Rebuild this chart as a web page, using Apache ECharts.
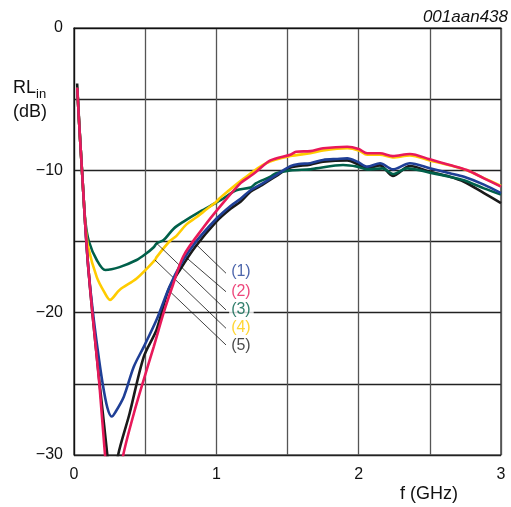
<!DOCTYPE html>
<html>
<head>
<meta charset="utf-8">
<script src="https://cdn.jsdelivr.net/npm/echarts@6/dist/echarts.min.js"></script>
<style>html,body{margin:0;padding:0;background:#fff}#c{width:511px;height:507px}</style>
</head>
<body>
<div id="c"></div>
<script>
// Data: [f (GHz), RLin (dB)]
const s1 = [[0.023,-4.2],[0.035,-6.5],[0.05,-9],[0.065,-11.5],[0.08,-14],[0.1,-16.8],[0.131,-19.8],[0.165,-22.5],[0.2,-24.9],[0.235,-26.7],[0.265,-27.3],[0.29,-27.0],[0.35,-25.9],[0.42,-23.8],[0.49,-22.4],[0.58,-20.5],[0.67,-18.2],[0.75,-16.6],[0.85,-15.1],[1.0,-13.4],[1.1,-12.5],[1.17,-12.0],[1.24,-11.4],[1.31,-11.0],[1.42,-10.33],[1.52,-9.7],[1.58,-9.55],[1.66,-9.5],[1.75,-9.27],[1.85,-9.2],[1.92,-9.16],[1.99,-9.39],[2.06,-9.74],[2.15,-9.5],[2.24,-9.93],[2.36,-9.5],[2.5,-9.86],[2.64,-10.2],[2.74,-10.45],[2.88,-11.0],[3.0,-11.6]];
const s2 = [[0.023,-4.2],[0.035,-6.5],[0.05,-9],[0.065,-11.5],[0.08,-14],[0.1,-16.8],[0.131,-20.2],[0.178,-25],[0.218,-30],[0.25,-33],[0.28,-34],[0.31,-32.5],[0.346,-30],[0.42,-27.1],[0.49,-24.7],[0.56,-22.4],[0.63,-20.0],[0.69,-18.2],[0.77,-16.0],[0.91,-14.0],[1.03,-12.5],[1.17,-10.9],[1.24,-10.4],[1.28,-10.1],[1.38,-9.3],[1.52,-8.9],[1.56,-8.7],[1.66,-8.65],[1.75,-8.45],[1.92,-8.34],[2.0,-8.5],[2.06,-8.8],[2.15,-8.8],[2.24,-9.0],[2.36,-8.85],[2.5,-9.23],[2.64,-9.63],[2.76,-9.98],[2.88,-10.56],[3.0,-11.15]];
const s3 = [[0.023,-4.2],[0.035,-6.5],[0.05,-9],[0.065,-11.5],[0.08,-13.6],[0.105,-15],[0.16,-16.3],[0.22,-17.0],[0.32,-16.8],[0.44,-16.3],[0.5,-15.9],[0.56,-15.4],[0.581,-15.13],[0.63,-14.9],[0.7,-14.1],[0.77,-13.6],[0.885,-12.9],[1.03,-12.1],[1.14,-11.4],[1.24,-11.2],[1.28,-10.9],[1.38,-10.45],[1.42,-10.2],[1.52,-10.0],[1.66,-9.93],[1.7,-9.86],[1.89,-9.63],[1.99,-9.74],[2.06,-9.93],[2.17,-9.86],[2.24,-10.26],[2.34,-9.86],[2.5,-10.16],[2.64,-10.45],[2.74,-10.7],[2.88,-11.27],[3.0,-11.7]];
const s4 = [[0.023,-4.2],[0.035,-6.5],[0.05,-9],[0.065,-11.5],[0.08,-13.8],[0.1,-15.4],[0.16,-17.5],[0.21,-18.5],[0.253,-19.1],[0.32,-18.4],[0.44,-17.6],[0.569,-16.3],[0.58,-16.1],[0.67,-15.0],[0.72,-14.6],[0.79,-13.8],[0.86,-13.3],[0.91,-12.9],[1.0,-12.2],[1.03,-11.9],[1.19,-10.6],[1.35,-9.5],[1.52,-9.0],[1.66,-8.8],[1.75,-8.6],[1.92,-8.45],[2.0,-8.6],[2.06,-8.9],[2.15,-8.9],[2.24,-9.1],[2.36,-8.95],[2.5,-9.3],[2.64,-9.65],[2.76,-10.0],[2.88,-10.55],[3.0,-11.1]];
const s5 = [[0.022,-3.9],[0.035,-6.4],[0.05,-9],[0.065,-11.5],[0.08,-14],[0.1,-16.8],[0.131,-20.2],[0.18,-25],[0.234,-30],[0.26,-33],[0.29,-32],[0.31,-30],[0.39,-27.1],[0.49,-23.1],[0.58,-21.2],[0.663,-18.41],[0.75,-16.9],[0.85,-15.4],[1.0,-13.6],[1.1,-12.7],[1.17,-12.2],[1.24,-11.5],[1.31,-11.1],[1.42,-10.4],[1.52,-9.8],[1.66,-9.6],[1.75,-9.4],[1.92,-9.3],[1.99,-9.55],[2.06,-9.85],[2.15,-9.65],[2.24,-10.4],[2.36,-9.7],[2.5,-10.1],[2.64,-10.45],[2.74,-10.8],[2.88,-11.6],[3.0,-12.3]];

const seriesNames = ['(1)','(2)','(3)','(4)','(5)'];
const seriesColors = ['#1f3f96','#e8195a','#00604a','#ffcc00','#1a1a1a'];
// leader lines: [x1,y1,x2,y2] in data units
const leaders = [[0.85,-15.13,1.068,-17.23],[0.768,-15.95,1.068,-18.53],[0.581,-15.13,1.068,-19.81],[0.569,-16.30,1.068,-21.10],[0.663,-18.41,1.068,-22.27]];
const labelPos = [[1.09,-17.12],[1.09,-18.49],[1.09,-19.81],[1.09,-21.05],[1.09,-22.3]];

const xTicks = [0,1,2,3];
const yTicks = [0,-10,-20,-30];

const chart = echarts.init(document.getElementById('c'), null, {renderer:'canvas'});
const FONT = 'Liberation Sans, Arial, sans-serif';

function lineSeries(data, i, z){
  return {type:'line', name: seriesNames[i], data, smooth:0.3, symbol:'none', clip:true, z,
    lineStyle:{color:seriesColors[i], width:2.6}};
}

const option = {
  animation:false,
  backgroundColor:'#fff',
  grid:{left:74, top:28, width:427, height:427, show:true, borderColor:'#111', borderWidth:1.2},
  xAxis:{type:'value', min:0, max:3, interval:0.5,
    axisLine:{show:true, lineStyle:{color:'#111', width:1.2}},
    axisTick:{show:false},
    splitLine:{show:true, lineStyle:{color:'#555', width:1.3}},
    axisLabel:{margin:12, fontSize:16, color:'#111', fontFamily:FONT,
      formatter:v=> xTicks.includes(v) ? String(v) : ''}},
  yAxis:{type:'value', min:-30, max:0, interval:5,
    axisLine:{show:true, lineStyle:{color:'#111', width:1.2}},
    axisTick:{show:false},
    splitLine:{show:true, lineStyle:{color:'#222', width:1.3}},
    axisLabel:{margin:11, fontSize:16, color:'#111', fontFamily:FONT,
      formatter:v=> yTicks.includes(v) ? (v<0 ? '\u2212'+Math.abs(v) : String(v)) : ''}},
  series:[
    lineSeries(s5,4,2),
    lineSeries(s3,2,3),
    lineSeries(s4,3,4),
    lineSeries(s1,0,5),
    lineSeries(s2,1,6),
    {type:'line', data:[], z:7, silent:true,
      markLine:{silent:true, symbol:['none','none'], label:{show:false},
        lineStyle:{color:'#111', width:0.8, type:'solid'},
        data: leaders.map(l=>[{coord:[l[0],l[1]]},{coord:[l[2],l[3]]}])}},
    {type:'scatter', z:8, symbolSize:0, silent:true,
      data: labelPos.map((p,i)=>({value:p, label:{show:true, position:'right', distance:0,
        formatter:seriesNames[i], color:seriesColors[i], fontSize:16, fontFamily:FONT,
        backgroundColor:'#fff', padding:[1,3,1,2]}}))}
  ],
  graphic:[
    {type:'text', left:13, top:79, style:{text:'RL', font:'18px '+FONT, fill:'#111'}},
    {type:'text', left:36, top:88, style:{text:'in', font:'13px '+FONT, fill:'#111'}},
    {type:'text', left:13, top:103, style:{text:'(dB)', font:'18px '+FONT, fill:'#111'}},
    {type:'text', left:400, top:485, style:{text:'f (GHz)', font:'18px '+FONT, fill:'#111'}},
    {type:'text', right:3, top:9, style:{text:'001aan438', font:'italic 17px '+FONT, fill:'#111'}}
  ]
};
chart.setOption(option);
</script>
</body>
</html>
